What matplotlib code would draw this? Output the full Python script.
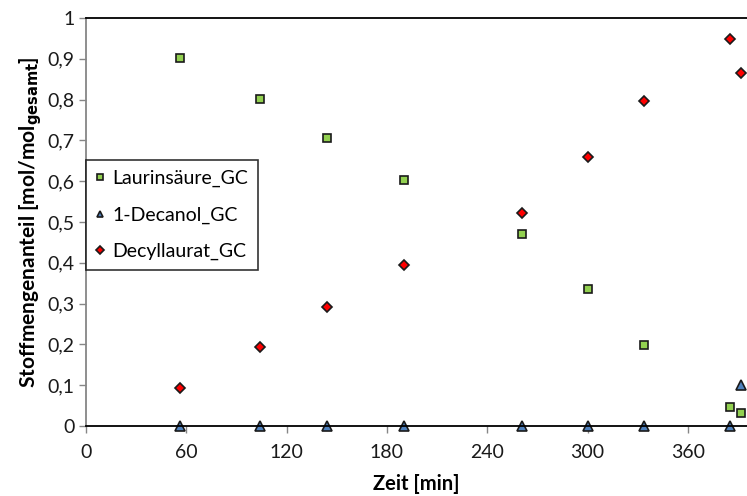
import matplotlib
matplotlib.use('Agg')
import matplotlib.pyplot as plt
from matplotlib.ticker import FuncFormatter, MultipleLocator

plt.rcParams['font.family'] = ['Lato', 'DejaVu Sans']

# Messdaten (Zeit in min, Stoffmengenanteil)
zeit = [56, 104, 144, 190, 261, 300, 334, 385, 392]
laurinsaeure = [0.903, 0.802, 0.705, 0.602, 0.471, 0.336, 0.199, 0.046, 0.031]
decanol = [0.0, 0.0, 0.0, 0.0, 0.0, 0.0, 0.001, 0.001, 0.100]
decyllaurat = [0.094, 0.194, 0.292, 0.395, 0.523, 0.659, 0.797, 0.949, 0.864]

x_ticks = [0, 60, 120, 180, 240, 300, 360]

fig = plt.figure(figsize=(7.47, 4.96), dpi=100)
ax = fig.add_axes([0.1151, 0.1411, 0.8849, 0.8226])

ax.plot(zeit, laurinsaeure, linestyle='none', marker='s', markersize=6,
        markerfacecolor='#92D050', markeredgecolor='#1a1a1a', markeredgewidth=1.2,
        label='Laurinsäure_GC')
ax.plot(zeit, decanol, linestyle='none', marker='^', markersize=6.5,
        markerfacecolor='#4F81BD', markeredgecolor='#1a1a1a', markeredgewidth=1.2,
        label='1-Decanol_GC', clip_on=False)
ax.plot(zeit, decyllaurat, linestyle='none', marker='D', markersize=5,
        markerfacecolor='#FF0000', markeredgecolor='#1a1a1a', markeredgewidth=1.2,
        label='Decyllaurat_GC')

ax.set_xlim(0, 395.4)
ax.set_ylim(0, 1)
ax.set_xticks(x_ticks)
ax.yaxis.set_major_locator(MultipleLocator(0.1))


def komma(v, pos):
    if abs(v - round(v)) < 1e-9:
        return f'{int(round(v))}'
    return f'{v:.1f}'.replace('.', ',')


ax.yaxis.set_major_formatter(FuncFormatter(komma))

ax.spines['right'].set_visible(False)
ax.spines['left'].set_color('#868686')
ax.spines['top'].set_color('black')
ax.spines['bottom'].set_color('black')
for s in ax.spines.values():
    s.set_linewidth(1.3)
ax.tick_params(axis='both', direction='out', length=5, width=1, color='#868686',
               labelsize=14, labelcolor='#1a1a1a')
ax.tick_params(axis='x', pad=8)
ax.tick_params(axis='y', pad=3)

ax.set_xlabel('Zeit [min]', fontsize=14.5, fontweight='bold', labelpad=9)
ax.set_ylabel(r'Stoffmengenanteil [mol/mol$_{\mathbf{gesamt}}$]', fontsize=15,
              fontweight='bold', labelpad=3)

leg = ax.legend(loc='upper left', bbox_to_anchor=(0.0, 0.652), borderaxespad=0,
                fontsize=14, frameon=True, fancybox=False, handlelength=0.4,
                handletextpad=0.45, labelspacing=1.0, borderpad=0.5, markerscale=0.75)
leg.get_frame().set_edgecolor('black')
leg.get_frame().set_linewidth(1.2)

plt.savefig('out.png', dpi=100)
